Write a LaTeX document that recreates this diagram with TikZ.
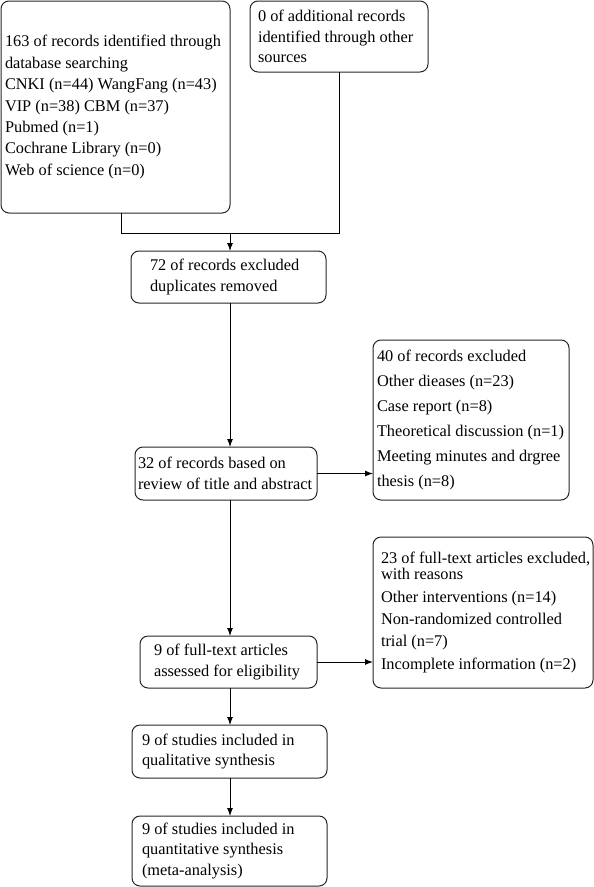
\documentclass[tikz,border=0pt]{standalone}
\usepackage{fontspec}
\setmainfont{Liberation Serif}
\usepackage{tikz}
\usetikzlibrary{arrows.meta}
\usetikzlibrary{positioning}

\tikzset{box/.style={draw=black!85, line width=1bp, rounded corners=8bp, anchor=north west,
    outer sep=0pt, inner ysep=0pt, align=flush left, font=\fontsize{16.4}{20.5}\selectfont}}

\begin{document}
\begin{tikzpicture}[x=1bp, y=-1bp, line width=1bp, >={Latex[length=8bp,width=6bp]}]
	\useasboundingbox (0,0) rectangle (594,887);
		\node[box, minimum width=229bp, minimum height=212bp, text width=221bp, inner xsep=4bp,
		  font=\fontsize{16.4}{21.5}\selectfont] (1) at (1,1)
		  {\mbox{163 of records identified through}\\ database searching\\ CNKI (n=44) WangFang (n=43)\\
		   VIP (n=38) CBM (n=37)\\ Pubmed (n=1)\\ Cochrane Library (n=0)\\ Web of science (n=0)\par\vspace*{12bp}};
		\node[box, minimum width=178bp, minimum height=71bp, text width=162bp, inner xsep=8bp] (2) at (250,1)
		  {0 of additional records\\ identified through other\\ sources};
		\node[box, minimum width=195bp, minimum height=52bp, text width=157bp, inner xsep=19bp] (3) at (131,251)
		  {72 of records excluded\\ duplicates removed};
		\node[box, minimum width=182bp, minimum height=53bp, text width=176bp, inner xsep=3bp] (4) at (135,447)
		  {32 of records based on\\ review of title and abstract};
		\node[box, minimum width=196bp, minimum height=160bp, text width=188bp, inner xsep=4bp,
		  font=\fontsize{16.4}{25}\selectfont] (5) at (373,340)
		  {40 of records excluded\\ Other dieases (n=23)\\ Case report (n=8)\\ \mbox{Theoretical discussion (n=1)}\\
		   Meeting minutes and drgree\\ thesis (n=8)};
		\node[box, minimum width=177bp, minimum height=52bp, text width=149bp, inner xsep=14bp] (6) at (140,636)
		  {9 of full-text articles\\ assessed for eligibility};
		\node[box, minimum width=220bp, minimum height=151bp, text width=204bp, inner xsep=8bp,
		  font=\fontsize{16.4}{22.5}\selectfont] (7) at (373,537)
		  {\mbox{23 of full-text articles excluded,}\\[-6.5bp] with reasons\\ Other interventions (n=14)\\
		   Non-randomized controlled\\ trial (n=7)\\ Incomplete information (n=2)\par\vspace*{-6bp}};
		\node[box, minimum width=195bp, minimum height=53bp, text width=175bp, inner xsep=10bp] (8) at (132,725)
		  {9 of studies included in\\ qualitative synthesis};
		\node[box, minimum width=195bp, minimum height=70bp, text width=175bp, inner xsep=10bp] (9) at (132,816)
		  {9 of studies included in\\ quantitative synthesis\\ (meta-analysis)};
		\coordinate (j) at (230,233);
		\draw ([xshift=5.5bp]1.south) -- ([xshift=5.5bp]1.south |- j) -- (j -| 2.south) -- (2.south);
		\draw[->] (j) -- (j |- 3.north);
		\draw[->] (3.south -| j) -- (4.north -| j);
		\draw[->] (4.east) -- (4.east -| 5.west);
		\draw[->] (4.south -| j) -- (6.north -| j);
		\draw[->] (6.east) -- (6.east -| 7.west);
		\draw[->] (6.south -| j) -- (8.north -| j);
		\draw[->] (8.south -| j) -- (9.north -| j);
    \end{tikzpicture}
\end{document}
